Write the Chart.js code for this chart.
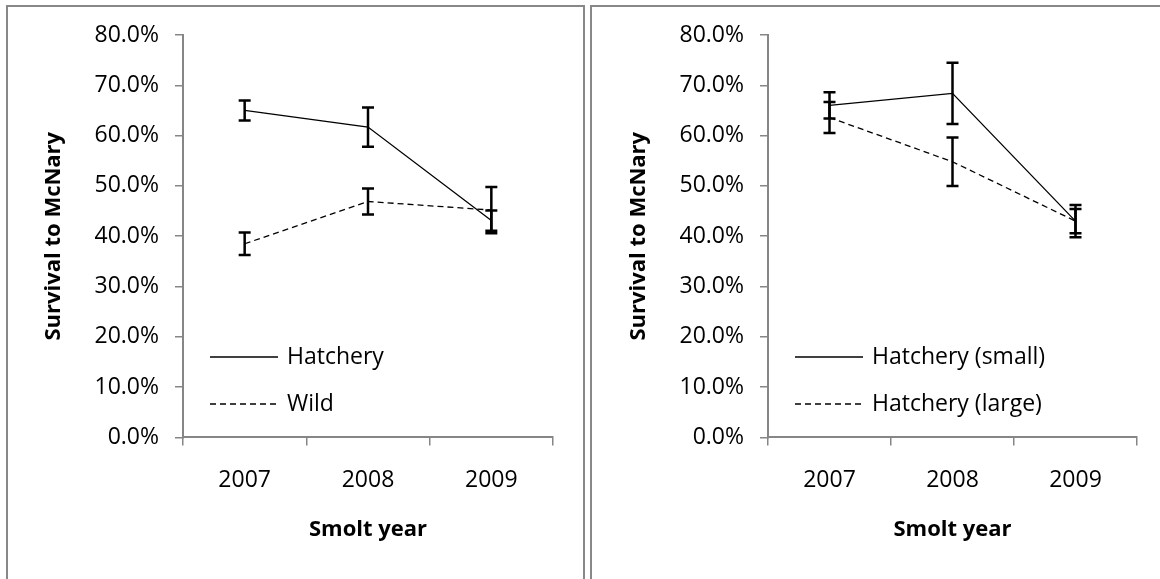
<!DOCTYPE html>
<html>
<head>
<meta charset="utf-8">
<script src="https://cdn.jsdelivr.net/npm/chart.js@4"></script>
<style>
  html, body { margin: 0; padding: 0; background: #fff; }
  body { width: 1160px; height: 579px; position: relative; overflow: hidden; }
  .panel { position: absolute; box-sizing: border-box; border: 2px solid #888; }
  .wrap { position: absolute; top: 0; height: 579px; }
</style>
</head>
<body>
<div class="panel" style="left:6px; top:5px; width:579px; height:620px;"></div>
<div class="panel" style="left:590px; top:5px; width:620px; height:620px;"></div>
<div class="wrap" style="left:0; width:585px;"><canvas id="left"></canvas></div>
<div class="wrap" style="left:585px; width:575px;"><canvas id="right"></canvas></div>
<script>
const years = ["2007", "2008", "2009"];
const yTickMax = 80;
const yTickStep = 10;

// left panel: hatchery vs wild
const hatchery = [65.0, 61.7, 43.1];
const hatcheryErr = [2.0, 3.9, 2.0];
const wild = [38.5, 46.9, 45.2];
const wildErr = [2.25, 2.6, 4.6];

// right panel: small vs large hatchery fish
const hatcherySmall = [66.0, 68.4, 43.0];
const hatcherySmallErr = [2.6, 6.1, 3.2];
const hatcheryLarge = [63.6, 54.8, 43.0];
const hatcheryLargeErr = [3.1, 4.8, 2.4];

const FONT = "'Open Sans', sans-serif";
const AXIS_GREY = "#868686";

// vertical error bars with caps, placed through the chart scales
const errorBars = {
  id: "errorBars",
  afterDatasetsDraw(chart) {
    const { ctx, scales: { x, y } } = chart;
    ctx.save();
    ctx.strokeStyle = "#000";
    ctx.lineWidth = 2.5;
    ctx.setLineDash([]);
    chart.data.datasets.forEach((ds) => {
      ds.data.forEach((v, i) => {
        const e = ds.errors[i];
        const px = x.getPixelForValue(i);
        const top = y.getPixelForValue(v + e);
        const bot = y.getPixelForValue(v - e);
        ctx.beginPath();
        ctx.moveTo(px, top);
        ctx.lineTo(px, bot);
        ctx.moveTo(px - 6, top);
        ctx.lineTo(px + 6, top);
        ctx.moveTo(px - 6, bot);
        ctx.lineTo(px + 6, bot);
        ctx.stroke();
      });
    });
    ctx.restore();
  },
};

// legend drawn inside the plot, bottom-left, like the Excel original
const innerLegend = {
  id: "innerLegend",
  afterDraw(chart) {
    const { ctx, chartArea } = chart;
    ctx.save();
    ctx.font = "23px " + FONT;
    ctx.fillStyle = "#000";
    ctx.textBaseline = "middle";
    ctx.textAlign = "left";
    chart.data.datasets.forEach((ds, i) => {
      const yy = chartArea.top + 322 + i * 47;
      ctx.strokeStyle = "#000";
      ctx.lineWidth = 1.3;
      ctx.setLineDash(ds.borderDash || []);
      ctx.beginPath();
      ctx.moveTo(chartArea.left + 27, yy);
      ctx.lineTo(chartArea.left + 95, yy);
      ctx.stroke();
      ctx.fillText(ds.label, chartArea.left + 104, yy);
    });
    ctx.restore();
  },
};

function makeChart(id, padRight, sets) {
  return new Chart(document.getElementById(id), {
    type: "line",
    data: {
      labels: years,
      datasets: sets.map((s) => ({
        label: s.label,
        data: s.data,
        errors: s.errors,
        borderColor: "#000",
        borderWidth: 1.3,
        borderDash: s.dash,
        pointRadius: 0,
        tension: 0,
        fill: false,
      })),
    },
    options: {
      responsive: true,
      maintainAspectRatio: false,
      animation: false,
      layout: { padding: { top: 35, right: padRight, bottom: 0, left: 0 } },
      plugins: { legend: { display: false }, tooltip: { enabled: false } },
      scales: {
        x: {
          type: "category",
          offset: true,
          afterFit: (scale) => { scale.height = 141.6; },
          grid: { offset: true, drawOnChartArea: false, drawTicks: true, tickLength: 8, color: AXIS_GREY, lineWidth: 1.5 },
          border: { display: true, color: AXIS_GREY, width: 2 },
          ticks: { color: "#000", font: { family: FONT, size: 23 }, padding: 21, maxRotation: 0 },
          title: { display: true, text: "Smolt year", color: "#000", font: { family: FONT, size: 22, weight: "bold" }, padding: { top: 0, bottom: 36 } },
        },
        y: {
          min: 0,
          max: yTickMax,
          afterFit: (scale) => { scale.width = 183; },
          grid: { drawOnChartArea: false, drawTicks: true, tickLength: 8, color: AXIS_GREY, lineWidth: 1.5 },
          border: { display: true, color: AXIS_GREY, width: 2 },
          ticks: {
            stepSize: yTickStep,
            color: "#000",
            font: { family: FONT, size: 23 },
            padding: 16,
            callback: (v) => v.toFixed(1) + "%",
          },
          title: { display: true, text: "Survival to McNary", color: "#000", font: { family: FONT, size: 22, weight: "bold" }, padding: { top: 41, bottom: 0 } },
        },
      },
    },
    plugins: [errorBars, innerLegend],
  });
}

makeChart("left", 32, [
  { label: "Hatchery", data: hatchery, errors: hatcheryErr, dash: [] },
  { label: "Wild", data: wild, errors: wildErr, dash: [6, 4] },
]);

makeChart("right", 23, [
  { label: "Hatchery (small)", data: hatcherySmall, errors: hatcherySmallErr, dash: [] },
  { label: "Hatchery (large)", data: hatcheryLarge, errors: hatcheryLargeErr, dash: [6, 4] },
]);
</script>
</body>
</html>
